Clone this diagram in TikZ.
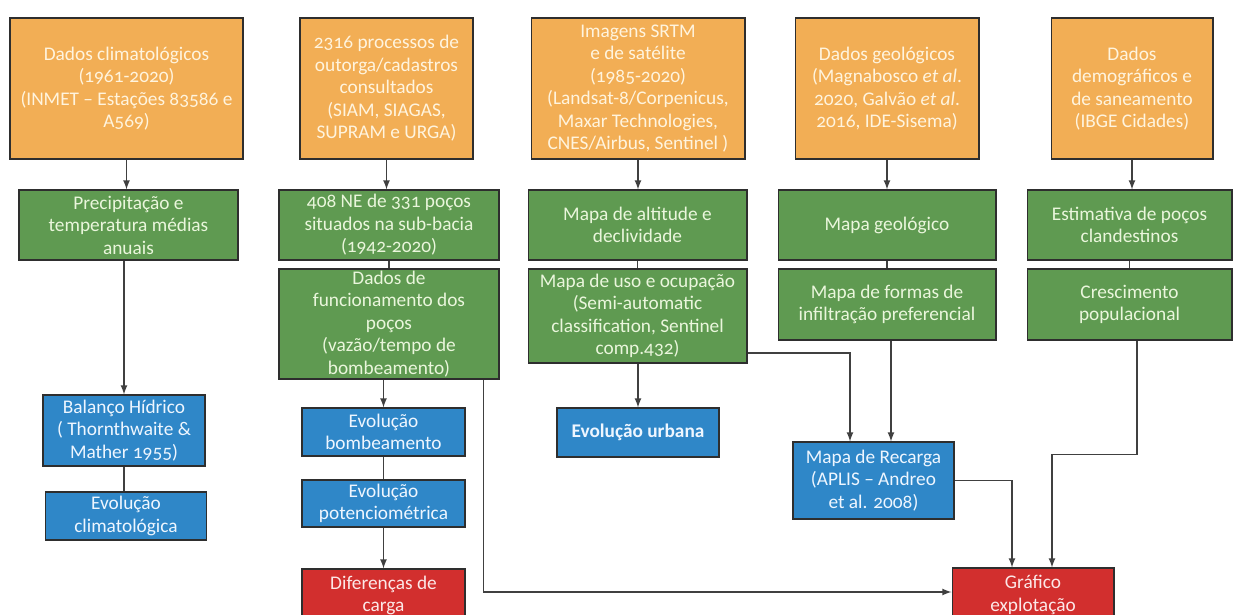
\documentclass[tikz,border=0pt]{standalone}
\usepackage{fontspec}
\setmainfont{Carlito}[Numbers=OldStyle]
\usetikzlibrary{positioning}
\definecolor{laranja}{HTML}{F2AE55}
\definecolor{verde}{HTML}{5F9A51}
\definecolor{azul}{HTML}{2F87C8}
\definecolor{vermelho}{HTML}{D22F2E}
\definecolor{borda}{HTML}{2E2E2E}
\definecolor{linha}{HTML}{404040}
\definecolor{txtlar}{HTML}{FFF4DE}
\definecolor{txtver}{HTML}{EAF6DC}
\definecolor{txtazul}{HTML}{EEF6FF}
\definecolor{txtverm}{HTML}{FCE8E8}

\begin{document}
\begin{tikzpicture}[x=0.02cm,y=-0.02cm,
      caixa/.style={rectangle, draw=borda, line width=0.6pt, align=center, inner xsep=1pt, inner ysep=0pt, font=\fontsize{11}{12.8}\selectfont},
      fonte/.style={caixa, fill=laranja, text=txtlar, minimum height=2.82cm},
      proc/.style={caixa, fill=verde, text=txtver},
      prod/.style={caixa, fill=azul, text=txtazul},
      res/.style={caixa, fill=vermelho, text=txtverm},
      arr/.style={draw=linha, line width=0.8pt, -latex},
      lig/.style={draw=linha, line width=0.8pt}
      ]
      \fill[white] (0,0) rectangle (1234,615);
      \useasboundingbox (0,0) rectangle (1234,615);
      \node (clima) [fonte, minimum width=4.66cm] at (126.5,88.5) {Dados climatológicos\\(1961-2020)\\(INMET – Estações 83586 e\\A569)};
      \node (outorga) [fonte, minimum width=3.46cm] at (386.5,88.5) {2316 processos de\\outorga/cadastros\\consultados\\(SIAM, SIAGAS,\\SUPRAM e URGA)};
      \node (srtm) [fonte, minimum width=4.28cm] at (638,88.5) {Imagens SRTM\\e de satélite\\(1985-2020)\\(Landsat-8/Corpenicus,\\Maxar Technologies,\\CNES/Airbus, Sentinel )};
      \node (geol) [fonte, minimum width=3.68cm] at (887,88.5) {Dados geológicos\\(Magnabosco \textit{et al}.\\2020, Galvão \textit{et al}.\\2016, IDE-Sisema)};
      \node (demo) [fonte, minimum width=3.24cm] at (1132,88.5) {Dados\\demográficos e\\de saneamento\\(IBGE Cidades)};
      \node (precip) [proc, minimum width=4.38cm, minimum height=1.4cm] at (128.5,225) {Precipitação e\\temperatura médias\\anuais};
      \node (nepocos) [proc, minimum width=4.4cm, minimum height=1.4cm] at (389,225) {408 NE de 331 poços\\situados na sub-bacia\\(1942-2020)};
      \node (funcion) [proc, minimum width=4.4cm, minimum height=2.2cm] at (389,324) {Dados de\\funcionamento dos\\poços\\(vazão/tempo de\\bombeamento)};
      \node (altitude) [proc, minimum width=4.38cm, minimum height=1.4cm] at (637.5,225) {Mapa de altitude e\\declividade};
      \node (usosolo) [proc, minimum width=4.38cm, minimum height=1.88cm] at (637.5,316) {Mapa de uso e ocupação\\(Semi-automatic\\classification, Sentinel\\comp.432)};
      \node (mapgeol) [proc, minimum width=4.36cm, minimum height=1.4cm] at (887,225) {Mapa geológico};
      \node (infilt) [proc, minimum width=4.36cm, minimum height=1.42cm] at (887,304.5) {Mapa de formas de\\infiltração preferencial};
      \node (clandest) [proc, minimum width=4.1cm, minimum height=1.4cm] at (1129.5,225) {Estimativa de poços\\clandestinos};
      \node (cresc) [proc, minimum width=4.1cm, minimum height=1.42cm] at (1129.5,304.5) {Crescimento\\populacional};
      \node (balanco) [prod, minimum width=3.24cm, minimum height=1.42cm] at (124,430.5) {Balanço Hídrico\\( Thornthwaite \&\\Mather 1955)};
      \node (evclima) [prod, minimum width=3.22cm, minimum height=0.96cm] at (126,516) {Evolução\\climatológica};
      \node (evbomb) [prod, minimum width=3.26cm, minimum height=0.96cm] at (383.5,432) {Evolução\\bombeamento};
      \node (evpot) [prod, minimum width=3.26cm, minimum height=0.94cm] at (383.5,503.5) {Evolução\\potenciométrica};
      \node (difcarga) [res, minimum width=3.26cm, minimum height=1.06cm] at (383.5,595.5) {Diferenças de\\carga};
      \node (evurb) [prod, minimum width=3.24cm, minimum height=0.98cm] at (638,432.5) {\textbf{Evolução urbana}};
      \node (recarga) [prod, minimum width=3.22cm, minimum height=1.54cm] at (873.5,480.5) {Mapa de Recarga\\(APLIS – Andreo\\et al. 2008)};
      \node (grafico) [res, minimum width=3.24cm, minimum height=1.08cm] at (1033,595) {Gráfico\\explotação};
      \draw[arr] (clima.south) -- (clima.south |- precip.north);
      \draw[arr] (outorga.south) -- (outorga.south |- nepocos.north);
      \draw[arr] (srtm.south) -- (srtm.south |- altitude.north);
      \draw[arr] (geol.south) -- (geol.south |- mapgeol.north);
      \draw[arr] (demo.south) -- (demo.south |- clandest.north);
      \draw[arr] (balanco.north |- precip.south) -- (balanco.north);
      \draw[lig] (nepocos.south) -- (funcion.north);
      \draw[arr] (evbomb.north |- funcion.south) -- (evbomb.north);
      \draw[arr] ([xshift=-0.32cm]funcion.south east) |- ([yshift=0.06cm]grafico.west);
      \draw[lig] (balanco.south) -- (balanco.south |- evclima.north);
      \draw[lig] (evbomb) -- (evpot);
      \draw[arr] (evpot) -- (difcarga);
      \draw[lig] (altitude) -- (usosolo);
      \draw[arr] (usosolo.south -| evurb.north) -- (evurb.north);
      \draw[arr] ([yshift=-0.74cm]usosolo.east) -| ([xshift=-0.47cm]recarga.north);
      \draw[lig] (mapgeol) -- (infilt);
      \draw[arr] ([xshift=0.08cm]infilt.south) -- ([xshift=0.08cm]infilt.south |- recarga.north);
      \draw[arr] (recarga.east) -| ([xshift=-0.42cm]grafico.north);
      \draw[lig] (clandest) -- (cresc);
      \draw[arr] ([xshift=0.15cm]cresc.south) -- ++(0,114) -| ([xshift=0.38cm]grafico.north);
\end{tikzpicture}
\end{document}
